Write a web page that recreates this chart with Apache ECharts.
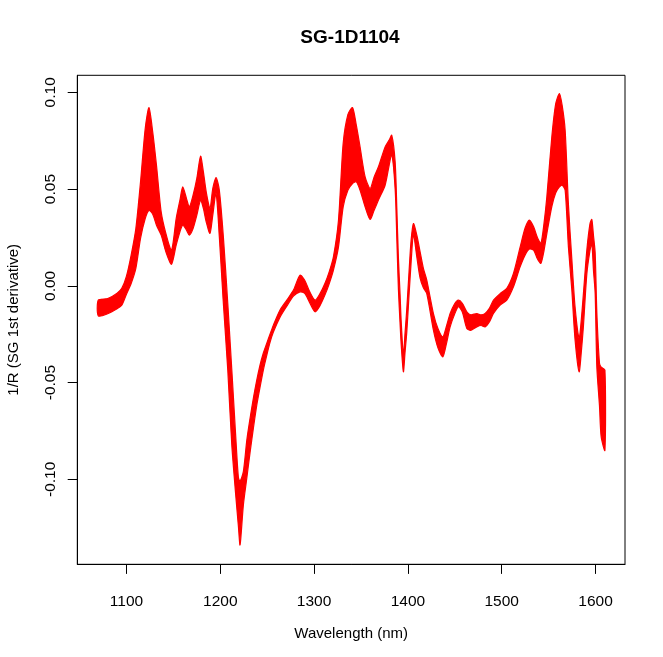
<!DOCTYPE html>
<html>
<head>
<meta charset="utf-8">
<script src="https://cdn.jsdelivr.net/npm/echarts@6/dist/echarts.min.js"></script>
<style>
html,body{margin:0;padding:0;background:#fff;}
#chart{width:663px;height:657px;}
</style>
</head>
<body>
<div id="chart"></div>
<script>
// Wavelength grid (nm) shared by both envelopes of the spectra band
const wavelengths = [1070,1080,1090,1095,1100,1105,1110,1115,1120,1124,1128,1132,1137,1142,1148,1153,1157,1160,1164,1167,1171,1175,1179,1182,1185,1189,1192,1195.5,1199,1203.3,1208,1212.3,1216.5,1219.3,1221.1,1224.6,1228.3,1231.8,1235.3,1238.9,1242.4,1245.9,1249.6,1253.1,1256.6,1263.7,1270.9,1278,1285,1290,1295,1301,1306,1311.5,1316,1320.6,1326,1331,1336,1341,1345,1349,1354.4,1359.7,1364,1368.6,1375.7,1380,1382.8,1386.4,1388.2,1389.9,1391.7,1392.8,1395.2,1397,1398.8,1401.3,1403.4,1405.9,1409.5,1413,1416.5,1420.1,1427.2,1432,1437.2,1441,1445,1449.5,1453.8,1458,1462.8,1467,1473.4,1478,1482.3,1487,1491.2,1498.3,1505.4,1512.5,1519.6,1525,1529.5,1534,1538,1541.7,1545,1548.1,1553.4,1557.5,1561.5,1564.5,1567.6,1571.1,1574.7,1578.2,1582.5,1585,1587.1,1590.7,1594,1596,1597.8,1599.6,1601.4,1604.2,1606,1610];

// Upper envelope of all spectra (max value at each wavelength)
const upperValues = [-0.0074,-0.0066,-0.0038,-0.0013,0.0050,0.0159,0.0296,0.0537,0.0813,0.0921,0.0795,0.0623,0.0382,0.0271,0.0184,0.0348,0.0443,0.0511,0.0451,0.0408,0.0468,0.0555,0.0670,0.0589,0.0486,0.0400,0.0503,0.0560,0.0494,0.0253,-0.0091,-0.0435,-0.0780,-0.0990,-0.1010,-0.0960,-0.0797,-0.0683,-0.0580,-0.0487,-0.0409,-0.0347,-0.0296,-0.0249,-0.0203,-0.0125,-0.0074,-0.0022,0.0055,0.0029,-0.0027,-0.0074,-0.0043,0.0012,0.0071,0.0150,0.0339,0.0737,0.0885,0.0921,0.0830,0.0718,0.0563,0.0503,0.0563,0.0615,0.0718,0.0753,0.0778,0.0640,0.0400,0.0142,-0.0050,-0.0180,-0.0358,-0.0240,-0.0120,0.0080,0.0235,0.0322,0.0262,0.0176,0.0090,0.0030,-0.0143,-0.0220,-0.0263,-0.0210,-0.0143,-0.0095,-0.0074,-0.0090,-0.0134,-0.0150,-0.0143,-0.0150,-0.0143,-0.0115,-0.0074,-0.0040,-0.0013,0.0064,0.0200,0.0300,0.0340,0.0305,0.0250,0.0219,0.0320,0.0460,0.0770,0.0940,0.0994,0.0930,0.0804,0.0420,0.0140,-0.0110,-0.0270,-0.0165,-0.0039,0.0184,0.0319,0.0343,0.0260,0.0170,-0.0140,-0.0400,-0.0420,-0.0435];

// Lower envelope of all spectra (min value at each wavelength)
const lowerValues = [-0.0155,-0.0144,-0.0118,-0.0100,-0.0043,0.0012,0.0090,0.0245,0.0348,0.0390,0.0370,0.0313,0.0262,0.0176,0.0111,0.0210,0.0279,0.0314,0.0288,0.0262,0.0296,0.0365,0.0443,0.0400,0.0331,0.0271,0.0365,0.0478,0.0253,-0.0091,-0.0435,-0.0824,-0.1083,-0.1241,-0.1339,-0.1133,-0.0993,-0.0859,-0.0735,-0.0616,-0.0523,-0.0435,-0.0358,-0.0291,-0.0239,-0.0162,-0.0105,-0.0053,-0.0031,-0.0039,-0.0084,-0.0134,-0.0105,-0.0048,0.0009,0.0081,0.0201,0.0408,0.0494,0.0529,0.0537,0.0494,0.0408,0.0343,0.0391,0.0443,0.0520,0.0623,0.0680,0.0500,0.0240,-0.0020,-0.0200,-0.0300,-0.0444,-0.0340,-0.0240,-0.0040,0.0120,0.0265,0.0150,0.0040,-0.0010,-0.0040,-0.0229,-0.0320,-0.0367,-0.0300,-0.0212,-0.0150,-0.0108,-0.0135,-0.0220,-0.0230,-0.0212,-0.0205,-0.0212,-0.0185,-0.0143,-0.0100,-0.0074,-0.0005,0.0098,0.0160,0.0190,0.0184,0.0140,0.0116,0.0180,0.0270,0.0410,0.0480,0.0511,0.0520,0.0494,0.0200,-0.0020,-0.0280,-0.0444,-0.0332,-0.0207,0.0060,0.0180,0.0219,0.0080,-0.0040,-0.0420,-0.0620,-0.0780,-0.0850];

// Tick labels
const xTicks = [1100,1200,1300,1400,1500,1600];
const yTicks = [-0.10,-0.05,0.00,0.05,0.10];

const titleText = 'SG-1D1104';
const xName = 'Wavelength (nm)';
const yName = '1/R (SG 1st derivative)';

const FONT = "'Liberation Sans', Arial, sans-serif";
const RED = '#ff0000';
const chart = echarts.init(document.getElementById('chart'), null, {renderer: 'canvas'});

chart.setOption({
  animation: false,
  backgroundColor: '#ffffff',
  title: {
    text: titleText,
    left: 350,
    top: 28,
    padding: 0,
    textAlign: 'center',
    textStyle: {fontFamily: FONT, fontSize: 19, fontWeight: 'bold', color: '#000'}
  },
  grid: {
    left: 77.3, right: 38, top: 75.3, bottom: 92.7,
    show: true, borderColor: '#000', borderWidth: 1, backgroundColor: 'transparent',
    containLabel: false, outerBoundsMode: 'none'
  },
  xAxis: {
    type: 'value',
    min: 1047.6, max: 1631.4,
    name: xName, nameLocation: 'middle', nameGap: 62,
    nameTextStyle: {fontFamily: FONT, fontSize: 15, color: '#000'},
    axisLine: {show: true, onZero: false, lineStyle: {color: '#000', width: 1}},
    axisTick: {show: true, length: 9.6, inside: false, customValues: xTicks, lineStyle: {color: '#000', width: 1}},
    axisLabel: {show: true, customValues: xTicks, margin: 29, fontFamily: FONT, fontSize: 15.5, color: '#000',
      formatter: v => String(Math.round(v))},
    splitLine: {show: false}
  },
  yAxis: {
    type: 'value',
    min: -0.1439, max: 0.1088,
    name: yName, nameLocation: 'middle', nameGap: 56, nameRotate: 90,
    nameTextStyle: {fontFamily: FONT, fontSize: 15, color: '#000'},
    axisLine: {show: true, onZero: false, lineStyle: {color: '#000', width: 1}},
    axisTick: {show: true, length: 9.6, inside: false, customValues: yTicks, lineStyle: {color: '#000', width: 1}},
    axisLabel: {show: true, customValues: yTicks, rotate: 90, margin: 19, fontFamily: FONT, fontSize: 15.5, color: '#000',
      formatter: v => Number(v).toFixed(2)},
    splitLine: {show: false}
  },
  series: [
    {
      // filled band between the lower and upper envelopes, placed through the axes' scales
      type: 'custom',
      coordinateSystem: 'cartesian2d',
      data: [[wavelengths[0], upperValues[0]]],
      silent: true,
      renderItem: function (params, api) {
        const pts = [];
        for (let i = 0; i < wavelengths.length; i++) pts.push(api.coord([wavelengths[i], upperValues[i]]));
        for (let i = wavelengths.length - 1; i >= 0; i--) pts.push(api.coord([wavelengths[i], lowerValues[i]]));
        return {
          type: 'polygon',
          shape: {points: pts, smooth: 0.25},
          style: {fill: RED, stroke: RED, lineWidth: 1.2, lineJoin: 'round'}
        };
      }
    }
  ]
});
</script>
</body>
</html>
